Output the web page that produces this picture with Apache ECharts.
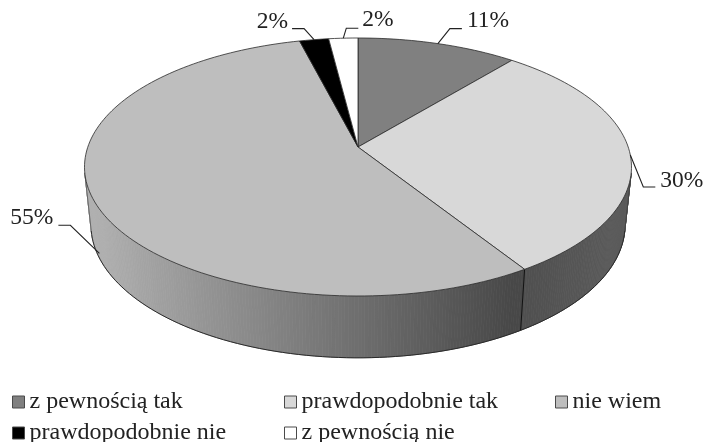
<!DOCTYPE html>
<html>
<head>
<meta charset="utf-8">
<style>html,body{margin:0;padding:0;background:#fff}#chart{width:704px;height:442px}</style>
<script src="https://cdn.jsdelivr.net/npm/echarts@6/dist/echarts.min.js"></script>
</head>
<body>
<div id="chart"></div>
<script>
// Survey answers, in percent, clockwise from twelve o'clock.
const categories = ['z pewnością tak', 'prawdopodobnie tak', 'nie wiem', 'prawdopodobnie nie', 'z pewnością nie'];
const values = [11, 30, 55, 2, 2];
const faceColors = ['#808080', '#d8d8d8', '#bebebe', '#000000', '#ffffff'];

// Perspective of the disc: a unit circle is projected onto each of its two planes.
const topPlane = { cx: 358, cy: 147, rx: 270.2, ry: 125.9, k: 0.155 };
const bottomPlane = { cx: 358, cy: 204.3, rx: 263.8, ry: 129.7, k: 0.155 };
const RIM_FROM = 101.5, RIM_TO = 258.5; // visible part of the rim, degrees clockwise from the top

function project(plane, deg) {
  const a = deg * Math.PI / 180, u = Math.sin(a), v = Math.cos(a), d = 1 + plane.k * v;
  return [plane.cx + plane.rx * u / d, plane.cy - plane.ry * v / d];
}
function arc(plane, from, to) {
  const pts = [], n = Math.max(2, Math.ceil(Math.abs(to - from) / 1.5));
  for (let i = 0; i <= n; i++) pts.push(project(plane, from + (to - from) * i / n));
  return pts;
}
function mix(a, b, t) {
  t = Math.min(1, Math.max(0, t));
  const ch = i => Math.round(a[i] + (b[i] - a[i]) * t);
  return 'rgb(' + ch(0) + ',' + ch(1) + ',' + ch(2) + ')';
}

// Rim shading left to right, sampled by horizontal position.
const rimShades = [
  null,
  { x0: 513, x1: 630, c0: [78, 78, 78], c1: [92, 92, 92] },
  { x0: 92, x1: 513, c0: [176, 176, 176], c1: [72, 72, 72] },
  null,
  null
];

// Leader lines: anchor on the edge, elbow and end relative to it, then the text.
const leaders = [
  { elbow: [12, -15], end: [24, -15], text: [5, -8], align: 'left' },
  { elbow: [13, 32], end: [25, 32], text: [5, -6], align: 'left' },
  { onRim: 0.9, elbow: [-29, -28], end: [-41, -28], text: [-5, -7], align: 'right' },
  { elbow: [-10, -11], end: [-22, -11], text: [-4, -7], align: 'right' },
  { elbow: [3, -10], end: [15, -10], text: [4, -8], align: 'left' }
];

const LINE = '#2a2a2a';
const total = values.reduce((s, v) => s + v, 0);
const starts = values.map((_, i) => values.slice(0, i).reduce((s, v) => s + v, 0) / total * 360);

function renderSlice(index) {
  return function (params, api) {
    const start = starts[index];
    const end = start + api.value(0) / total * 360;
    const children = [];

    // rim, built from narrow strips so the outer silhouette stays straight at the sides
    const from = Math.max(start, RIM_FROM), to = Math.min(end, RIM_TO);
    const shade = rimShades[index];
    if (shade && to > from) {
      const n = Math.ceil((to - from) / 0.6);
      for (let i = 0; i < n; i++) {
        const a = from + (to - from) * i / n, b = from + (to - from) * (i + 1) / n;
        const p1 = project(topPlane, a), p2 = project(topPlane, b);
        const p3 = project(bottomPlane, b), p4 = project(bottomPlane, a);
        const colour = mix(shade.c0, shade.c1, ((p1[0] + p2[0]) / 2 - shade.x0) / (shade.x1 - shade.x0));
        children.push({
          type: 'polygon', z2: 1, shape: { points: [p1, p2, p3, p4] },
          style: { fill: colour, stroke: colour, lineWidth: 0.8 }
        });
      }
      children.push({
        type: 'polyline', z2: 2, shape: { points: arc(bottomPlane, from, to) },
        style: { fill: null, stroke: LINE, lineWidth: 1 }
      });
      const ruling = function (deg, colour) {
        const t = project(topPlane, deg), b = project(bottomPlane, deg);
        children.push({
          type: 'line', z2: 2,
          shape: { x1: t[0], y1: t[1], x2: b[0], y2: b[1] },
          style: { stroke: colour, lineWidth: 1 }
        });
      };
      if (from === RIM_FROM) ruling(from, '#444');
      if (to === RIM_TO) ruling(to, '#666');
      if (from > RIM_FROM) ruling(from, '#111');
    }

    // top face
    children.push({
      type: 'polygon', z2: 3,
      shape: { points: [[topPlane.cx, topPlane.cy]].concat(arc(topPlane, start, end)) },
      style: { fill: faceColors[index], stroke: LINE, lineWidth: 0.8, lineJoin: 'round' }
    });

    // leader and percentage text
    const mid = (start + end) / 2, lead = leaders[index];
    let anchor = project(topPlane, mid);
    if (lead.onRim) {
      const low = project(bottomPlane, mid);
      anchor = [anchor[0] + (low[0] - anchor[0]) * lead.onRim, anchor[1] + (low[1] - anchor[1]) * lead.onRim];
    }
    const at = o => [anchor[0] + o[0], anchor[1] + o[1]];
    children.push({
      type: 'polyline', z2: 4,
      shape: { points: [anchor, at(lead.elbow), at(lead.end)] },
      style: { fill: null, stroke: '#222', lineWidth: 1.1 }
    });
    const tail = at(lead.end);
    children.push({
      type: 'text', z2: 4,
      style: {
        text: api.value(0) + '%', x: tail[0] + lead.text[0], y: tail[1] + lead.text[1],
        fill: '#222', font: '23.5px "Liberation Serif"', align: lead.align, verticalAlign: 'middle'
      }
    });
    return { type: 'group', children: children };
  };
}

// One legend block per entry keeps the three-column grid of the caption.
const legendColumns = [12, 284, 555];
const legendRows = [390, 421];
const legendSlots = [[0, 0], [1, 0], [2, 0], [0, 1], [1, 1]];

const option = {
  animation: false,
  backgroundColor: '#fff',
  legend: categories.map(function (name, i) {
    return {
      data: [name],
      left: legendColumns[legendSlots[i][0]],
      top: legendRows[legendSlots[i][1]],
      padding: 0,
      icon: 'rect',
      itemWidth: 12,
      itemHeight: 12,
      itemGap: 0,
      selectedMode: false,
      itemStyle: { borderColor: '#4a4a4a', borderWidth: 1 },
      textStyle: { fontFamily: 'Liberation Serif', fontSize: 24, color: '#222', padding: [2, 0, 0, 0] }
    };
  }),
  series: categories.map(function (name, i) {
    return {
      type: 'custom',
      name: name,
      coordinateSystem: 'none',
      silent: true,
      itemStyle: { color: faceColors[i] },
      data: [[values[i]]],
      renderItem: renderSlice(i)
    };
  })
};

echarts.init(document.getElementById('chart'), null, { renderer: 'canvas' }).setOption(option);
</script>
</body>
</html>
